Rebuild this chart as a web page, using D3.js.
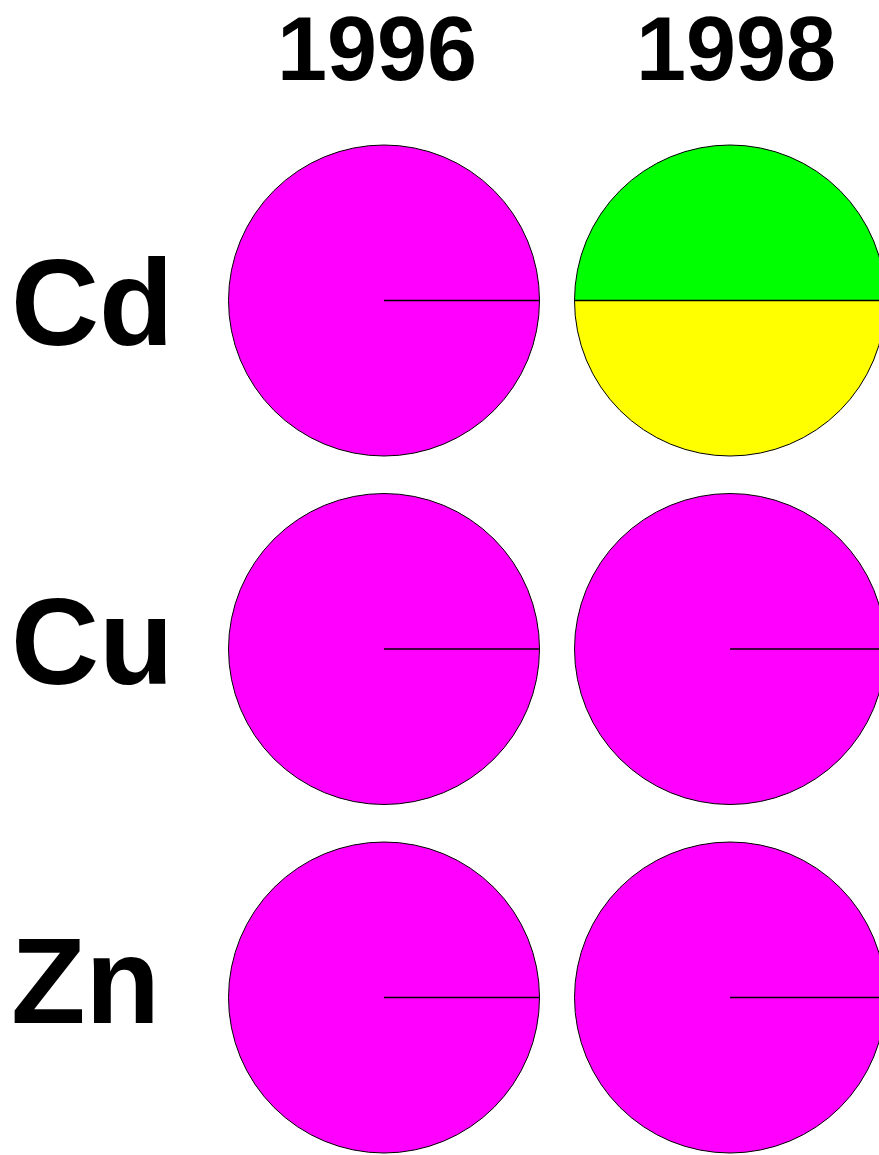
<!DOCTYPE html>
<html>
<head>
<meta charset="utf-8">
<script src="https://cdn.jsdelivr.net/npm/d3@7"></script>
<style>
  body { margin: 0; background: #fff; overflow: hidden; }
  svg { display: block; }
  .label { font-family: "Liberation Sans", Arial, sans-serif; font-weight: bold; fill: #000; }
</style>
</head>
<body>
<script>
/*** DATA ***/
let years = ["1996", "1998"];
let metals = ["Cd", "Cu", "Zn"];
let classes = ["class 1", "class 2", "class 3"];
let colors = ["#ff00ff", "#ffff00", "#00ff00"];

/* share of each class, per metal and per year (same order as classes) */
let cd = [[100, 0, 0], [0, 50, 50]];
let cu = [[100, 0, 0], [100, 0, 0]];
let zn = [[100, 0, 0], [100, 0, 0]];
let values = [cd, cu, zn];

/*** GRAPH ***/
let width = 879,
  height = 1155,
  radius = 155.5;

/* centres des camemberts */
let x = d3.scalePoint()
  .domain(years)
  .range([384, 730]);
let y = d3.scalePoint()
  .domain(metals)
  .range([300.5, 997.5]);

/* position des titres */
let xTitle = d3.scalePoint()
  .domain(years)
  .range([377, 736]);
let yTitle = d3.scalePoint()
  .domain(metals)
  .range([345, 1023]);

let color = d3.scaleOrdinal()
  .domain(classes)
  .range(colors);

/* pie starts at 3 o'clock */
let pie = d3.pie()
  .sort(null)
  .value((d) => d.v)
  .startAngle(Math.PI / 2)
  .endAngle(Math.PI / 2 + 2 * Math.PI);

let arc = d3.arc()
  .innerRadius(0)
  .outerRadius(radius);

let svg = d3.select("body").append("svg")
  .attr("width", width)
  .attr("height", height);

/* titres des colonnes */
svg.selectAll(".year")
  .data(years)
  .enter().append("text")
  .attr("class", "label year")
  .attr("x", (d) => xTitle(d))
  .attr("y", 80)
  .attr("text-anchor", "middle")
  .style("font-size", "90px")
  .text((d) => d);

/* titres des lignes */
svg.selectAll(".metal")
  .data(metals)
  .enter().append("text")
  .attr("class", "label metal")
  .attr("x", 11)
  .attr("y", (d) => yTitle(d))
  .style("font-size", "122px")
  .text((d) => d);

/* camemberts */
let cells = [];
metals.forEach((m, i) => {
  years.forEach((yr, j) => {
    cells.push({
      metal: m,
      year: yr,
      slices: classes.map((c, k) => ({ c: c, v: values[i][j][k] })).filter((s) => s.v > 0)
    });
  });
});

let cell = svg.selectAll(".cell")
  .data(cells)
  .enter().append("g")
  .attr("class", "cell")
  .attr("transform", (d) => "translate(" + x(d.year) + "," + y(d.metal) + ")");

cell.selectAll("path")
  .data((d) => pie(d.slices))
  .enter().append("path")
  .attr("d", arc)
  .style("fill", (d) => color(d.data.c))
  .style("stroke", "#000")
  .style("stroke-width", 1);

/* trait de séparation au début de chaque part */
cell.selectAll("line")
  .data((d) => pie(d.slices))
  .enter().append("line")
  .attr("x1", 0)
  .attr("y1", 0)
  .attr("x2", (d) => radius * Math.sin(d.startAngle))
  .attr("y2", (d) => -radius * Math.cos(d.startAngle))
  .style("stroke", "#000")
  .style("stroke-width", 1.3);
</script>
</body>
</html>
